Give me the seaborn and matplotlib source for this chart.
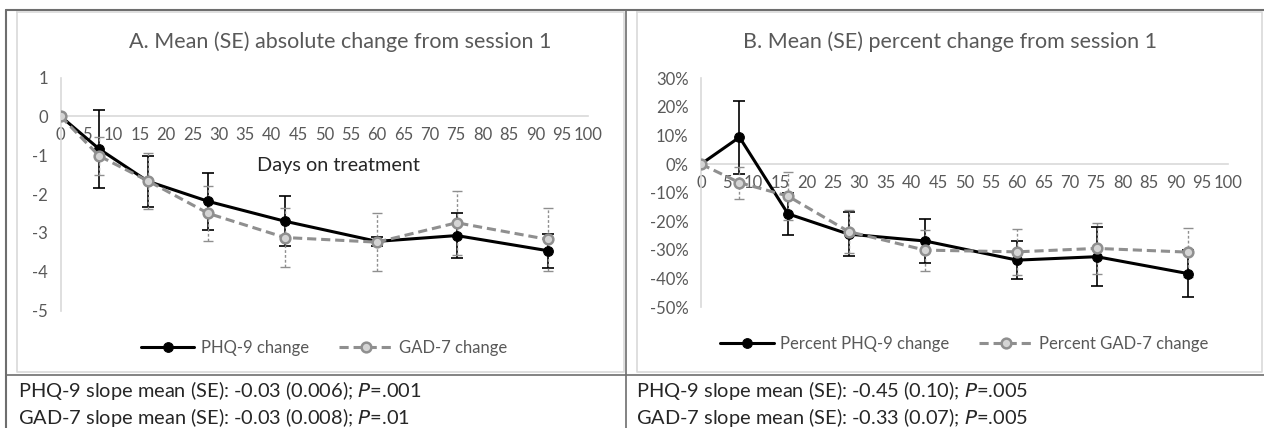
import numpy as np
import pandas as pd
import seaborn as sns
import matplotlib.pyplot as plt
from matplotlib.lines import Line2D

sns.set_style("white")
plt.rcParams['font.family'] = ['Lato', 'DejaVu Sans']

# days on treatment for each session
days = [0, 7.3, 16.5, 28, 42.5, 60, 75.1, 92.4]

# panel A: absolute change
phq_abs = [0, -0.84, -1.67, -2.19, -2.70, -3.22, -3.07, -3.46]
phq_abs_se = [0, 1.0, 0.66, 0.74, 0.65, 0.12, 0.57, 0.44]
gad_abs = [0, -1.02, -1.66, -2.50, -3.12, -3.24, -2.74, -3.17]
gad_abs_se = [0, 0.48, 0.72, 0.70, 0.76, 0.75, 0.82, 0.80]

# panel B: percent change
phq_pct = [0, 9.4, -17.4, -24.5, -26.9, -33.6, -32.4, -38.3]
phq_pct_se = [0, 12.8, 7.4, 7.8, 7.6, 6.7, 10.4, 8.3]
gad_pct = [0, -6.5, -11.2, -23.6, -30.1, -30.7, -29.5, -30.8]
gad_pct_se = [0, 5.6, 8.4, 7.4, 7.2, 8.1, 8.8, 8.6]

x_ticks = list(range(0, 101, 5))
abs_ticks = [1, 0, -1, -2, -3, -4, -5]
pct_ticks = [30, 20, 10, 0, -10, -20, -30, -40, -50]

grey_txt = '#595959'
phq_col = 'black'
gad_col = '#8f8f8f'

fig = plt.figure(figsize=(12.64, 4.28), dpi=100)

# table borders
fig.add_artist(Line2D([0.0047, 1], [0.977, 0.977], color='#6e6e6e', lw=1.5))
fig.add_artist(Line2D([0.0047, 0.0047], [0, 0.977], color='#6e6e6e', lw=1.5))
fig.add_artist(Line2D([0.495, 0.495], [0, 0.977], color='#6e6e6e', lw=1.2))
fig.add_artist(Line2D([0.0047, 1], [0.125, 0.125], color='#6e6e6e', lw=1.2))
# chart frames
for x0, x1 in [(0.0132, 0.4937), (0.5037, 0.9982)]:
    fig.add_artist(Line2D([x0, x1, x1, x0, x0], [0.972, 0.972, 0.131, 0.131, 0.972],
                          color='#d9d9d9', lw=1.2))


def draw_panel(ax, phq, phq_se, gad, gad_se, ticks, ylim, labels):
    ax.errorbar(days, phq, yerr=phq_se, fmt='none', ecolor=phq_col,
                elinewidth=1.2, capsize=4, capthick=1.2, zorder=3)
    eb = ax.errorbar(days, gad, yerr=gad_se, fmt='none', ecolor=gad_col,
                     elinewidth=1.0, capsize=3.5, capthick=1.0, zorder=3)
    eb[-1][0].set_linestyle((0, (2, 1.5)))
    sns.lineplot(x=days, y=phq, ax=ax, color=phq_col, lw=2.2, marker='o',
                 markersize=7, markeredgecolor=phq_col, label=labels[0], zorder=4)
    sns.lineplot(x=days, y=gad, ax=ax, color=gad_col, lw=2.2, linestyle=(0, (3, 1.6)),
                 marker='o', markersize=7, markerfacecolor='#d4d4d4',
                 markeredgecolor=gad_col, markeredgewidth=1.8, label=labels[1], zorder=5)
    ax.set_xlim(0, 100)
    ax.set_ylim(*ylim)
    ax.set_xticks(x_ticks)
    ax.set_yticks(ticks)
    for s in ['top', 'right']:
        ax.spines[s].set_visible(False)
    ax.spines['bottom'].set_position(('data', 0))
    ax.spines['bottom'].set_color('#d9d9d9')
    ax.spines['left'].set_color('#d9d9d9')
    ax.spines['bottom'].set_linewidth(1.2)
    ax.spines['left'].set_linewidth(1.2)
    ax.tick_params(axis='x', length=0, pad=8, labelsize=12, colors=grey_txt)
    ax.tick_params(axis='y', length=0, pad=9, labelsize=12, colors=grey_txt)
    leg = ax.legend(loc='center', bbox_to_anchor=(0.5, -0.16), ncol=2, frameon=False,
                    fontsize=12, handlelength=3.2, handletextpad=0.4, columnspacing=1.8)
    for t in leg.get_texts():
        t.set_color(grey_txt)
    ax.set_xlabel('')
    ax.set_ylabel('')


axA = fig.add_axes([0.048, 0.2745, 0.4172, 0.5444])
draw_panel(axA, phq_abs, phq_abs_se, gad_abs, gad_abs_se, abs_ticks, (-5, 1),
           ['PHQ-9 change', 'GAD-7 change'])
axA.set_yticklabels([str(v) for v in abs_ticks])

axB = fig.add_axes([0.5546, 0.2827, 0.4169, 0.5343])
draw_panel(axB, phq_pct, phq_pct_se, gad_pct, gad_pct_se, pct_ticks, (-50, 30),
           ['Percent PHQ-9 change', 'Percent GAD-7 change'])
axB.set_yticklabels([f'{v}%' for v in pct_ticks])

fig.text(0.269, 0.902, 'A. Mean (SE) absolute change from session 1',
         ha='center', va='center', fontsize=15.5, color=grey_txt)
fig.text(0.7516, 0.902, 'B. Mean (SE) percent change from session 1',
         ha='center', va='center', fontsize=15.5, color=grey_txt)
fig.text(0.268, 0.614, 'Days on treatment', ha='center', va='center',
         fontsize=14.3, color='#262626')

fig.text(0.014, 0.088, 'PHQ-9 slope mean (SE): -0.03 (0.006); $\\it{P}$=.001',
         ha='left', va='center', fontsize=14.4, color='#262626')
fig.text(0.014, 0.025, 'GAD-7 slope mean (SE): -0.03 (0.008); $\\it{P}$=.01',
         ha='left', va='center', fontsize=14.4, color='#262626')
fig.text(0.5035, 0.088, 'PHQ-9 slope mean (SE): -0.45 (0.10); $\\it{P}$=.005',
         ha='left', va='center', fontsize=14.4, color='#262626')
fig.text(0.5035, 0.025, 'GAD-7 slope mean (SE): -0.33 (0.07); $\\it{P}$=.005',
         ha='left', va='center', fontsize=14.4, color='#262626')

fig.savefig('out.png', dpi=100)
